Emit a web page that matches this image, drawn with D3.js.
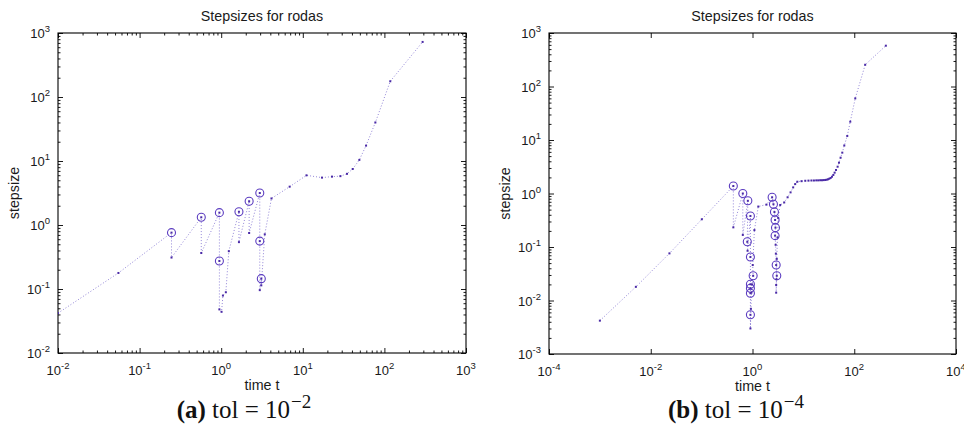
<!DOCTYPE html>
<html>
<head>
<meta charset="utf-8">
<script src="https://cdn.jsdelivr.net/npm/d3@7"></script>
<style>
  html, body { margin: 0; padding: 0; background: #fff; }
  svg { display: block; }
  .tick text { display: none; }
</style>
</head>
<body>
<svg id="fig" width="964" height="433"></svg>
<script>
// Step-size history of the rodas integrator, two tolerances.
// Each step: time t, step size h, and whether the step was rejected (circled).

// (a) tol = 1e-2
const timeA = [0.01, 0.055, 0.246, 0.246, 0.57, 0.57, 0.95, 0.95, 0.95, 1.01, 1.05, 1.14, 1.24,
  1.65, 1.65, 2.2, 2.2, 2.97, 2.97, 2.97, 3.1, 3.1, 3.42, 4.13, 6.9, 11.1, 17.2, 22.8, 28.9,
  34.8, 40.9, 49.3, 59.6, 77.5, 118, 294];
const stepA = [0.042, 0.178, 0.76, 0.31, 1.32, 0.365, 1.56, 0.274, 0.048, 0.044, 0.079, 0.089, 0.39,
  1.61, 0.54, 2.35, 0.75, 3.16, 0.56, 0.096, 0.145, 0.114, 0.715, 2.6, 3.97, 5.97, 5.5, 5.7, 5.8,
  6.3, 7.5, 10.4, 17.4, 40, 176, 725];
const rejectA = [0, 0, 1, 0, 1, 0, 1, 1, 0, 0, 0, 0, 0,
  1, 0, 1, 0, 1, 1, 0, 1, 0, 0, 0, 0, 0, 0, 0, 0,
  0, 0, 0, 0, 0, 0, 0];

// (b) tol = 1e-4
const timeB = [0.001, 0.0051, 0.0233, 0.101, 0.42, 0.42, 0.645, 0.645, 0.81, 0.79, 0.8,
  0.91, 0.91, 0.91, 0.91, 0.91, 0.91, 0.91, 0.93, 0.95, 0.98, 1.03, 1.01, 1.09, 1.3, 1.88,
  2.43, 2.58, 2.7, 2.78, 2.83, 2.78, 2.85, 2.88, 2.92, 3.0, 2.92, 2.92, 2.96, 3.0, 3.1, 3.2,
  3.5, 4.2, 4.9, 5.6, 6.3, 6.9, 7.6,
  9.2, 10.9, 12.6, 14.4, 16.1, 17.9, 19.6, 21.4, 23.2, 25.0, 26.8, 28.6, 30.4, 32.3,
  34.3, 36.5, 38.8, 41.1, 43.8, 47.1, 50.1, 53.9, 58.2, 63.7, 72.9, 83.5, 104.7, 164, 418];
const stepB = [0.0042, 0.018, 0.076, 0.33, 1.38, 0.233, 1.0, 0.168, 0.73, 0.125, 0.085,
  0.38, 0.065, 0.0201, 0.0169, 0.0137, 0.0054, 0.003, 0.007, 0.014, 0.02, 0.029, 0.046, 0.207, 0.57, 0.62,
  0.85, 0.63, 0.45, 0.32, 0.23, 0.163, 0.11, 0.075, 0.046, 0.029, 0.0195, 0.014, 0.025, 0.06, 0.15, 0.35,
  0.61, 0.68, 0.85, 1.05, 1.3, 1.5, 1.66,
  1.70, 1.73, 1.74, 1.75, 1.75, 1.76, 1.76, 1.77, 1.77, 1.78, 1.79, 1.81, 1.84, 1.89,
  1.95, 2.06, 2.22, 2.45, 2.75, 3.17, 3.77, 4.67, 5.8, 7.9, 11.9, 22, 60, 255, 579];
const rejectB = [0, 0, 0, 0, 1, 0, 1, 0, 1, 1, 0,
  1, 1, 1, 1, 1, 1, 0, 0, 0, 0, 1, 0, 0, 0, 0,
  1, 1, 1, 1, 1, 1, 0, 0, 1, 1, 0, 0, 0, 0, 0, 0,
  0, 0, 0, 0, 0, 0, 0,
  0, 0, 0, 0, 0, 0, 0, 0, 0, 0, 0, 0, 0, 0,
  0, 0, 0, 0, 0, 0, 0, 0, 0, 0, 0, 0, 0, 0, 0];

// Axis decades (exponents) that carry ticks and labels
const xExpA = [-2, -1, 0, 1, 2, 3];
const yExpA = [-2, -1, 0, 1, 2, 3];
const xExpB = [-4, -2, 0, 2, 4];
const yExpB = [-3, -2, -1, 0, 1, 2, 3];

const titleText = "Stepsizes for rodas";
const xLabelText = "time t";
const yLabelText = "stepsize";
const captionTags = ["(a)", "(b)"];
const captionExp = ["\u22122", "\u22124"];

const SANS = "'Liberation Sans', Arial, Helvetica, sans-serif";
const SERIF = "'Liberation Serif', 'Times New Roman', serif";
const DOT_COLOR = "#4a2aa6";
const RING_COLOR = "#5b3cc0";
const LINE_COLOR = "#9386d8";

const svg = d3.select("#fig");

function panel(cfg) {
  const { left, right, top, bottom, xExp, yExp, xMinor, times, steps, rejects, id } = cfg;
  const x = d3.scaleLog().domain([10 ** xExp[0], 10 ** xExp[xExp.length - 1]]).range([left, right]);
  const y = d3.scaleLog().domain([10 ** yExp[0], 10 ** yExp[yExp.length - 1]]).range([bottom, top]);
  const g = svg.append("g");

  // minor tick values: 2..9 inside every decade
  function minors(exps) {
    const out = [];
    for (let i = 0; i < exps.length - 1; i++) {
      for (let e = exps[i]; e < exps[i + 1]; e++) {
        for (let m = 2; m <= 9; m++) out.push(m * 10 ** e);
      }
    }
    return out;
  }
  const xMajor = xExp.map(e => 10 ** e);
  const yMajor = yExp.map(e => 10 ** e);
  const majorLen = 5, minorLen = 2.5;

  function axisGroup(axis, transform) {
    const a = g.append("g").attr("transform", transform).call(axis);
    a.select(".domain").remove();
    a.selectAll("line").attr("stroke", "#000").attr("stroke-width", 0.9);
    return a;
  }
  const W = right - left, H = bottom - top;
  // ticks point inward on all four sides
  axisGroup(d3.axisBottom(x).tickValues(xMajor).tickSize(-majorLen), `translate(0,${bottom})`);
  axisGroup(d3.axisTop(x).tickValues(xMajor).tickSize(-majorLen), `translate(0,${top})`);
  if (xMinor) {
    axisGroup(d3.axisBottom(x).tickValues(minors(xExp)).tickSize(-minorLen), `translate(0,${bottom})`);
    axisGroup(d3.axisTop(x).tickValues(minors(xExp)).tickSize(-minorLen), `translate(0,${top})`);
  }
  axisGroup(d3.axisLeft(y).tickValues(yMajor).tickSize(-majorLen), `translate(${left},0)`);
  axisGroup(d3.axisRight(y).tickValues(yMajor).tickSize(-majorLen), `translate(${right},0)`);
  axisGroup(d3.axisLeft(y).tickValues(minors(yExp)).tickSize(-minorLen), `translate(${left},0)`);
  axisGroup(d3.axisRight(y).tickValues(minors(yExp)).tickSize(-minorLen), `translate(${right},0)`);

  // box
  g.append("rect").attr("x", left).attr("y", top).attr("width", W).attr("height", H)
    .attr("fill", "none").attr("stroke", "#000").attr("stroke-width", 1.1);

  // tick labels: 10 with superscript exponent
  xExp.forEach(e => {
    const t = g.append("text").attr("x", x(10 ** e)).attr("y", bottom + 22)
      .attr("text-anchor", "middle").attr("font-family", SANS).attr("font-size", 13).attr("fill", "#1a1a1a");
    t.append("tspan").text("10");
    t.append("tspan").attr("font-size", 9.5).attr("dy", -6).text(String(e));
  });
  yExp.forEach(e => {
    const t = g.append("text").attr("x", left - 8).attr("y", y(10 ** e) + 5)
      .attr("text-anchor", "end").attr("font-family", SANS).attr("font-size", 13).attr("fill", "#1a1a1a");
    t.append("tspan").text("10");
    t.append("tspan").attr("font-size", 9.5).attr("dy", -6).text(String(e));
  });

  const cx = (left + right) / 2, cy = (top + bottom) / 2;
  g.append("text").attr("x", cx).attr("y", 21).attr("text-anchor", "middle")
    .attr("font-family", SANS).attr("font-size", 14.3).attr("fill", "#1a1a1a").text(titleText);
  g.append("text").attr("x", cx).attr("y", bottom + 36.5).attr("text-anchor", "middle")
    .attr("font-family", SANS).attr("font-size", 14.3).attr("fill", "#1a1a1a").text(xLabelText);
  g.append("text").attr("transform", `translate(${left - 39},${cy}) rotate(-90)`)
    .attr("text-anchor", "middle").attr("font-family", SANS).attr("font-size", 14.3)
    .attr("fill", "#1a1a1a").text(yLabelText);

  // data, clipped to the axes box
  svg.append("clipPath").attr("id", id).append("rect")
    .attr("x", left).attr("y", top).attr("width", W).attr("height", H);
  const data = times.map((t, i) => ({ t, h: steps[i], rej: rejects[i] }));
  const plot = g.append("g").attr("clip-path", `url(#${id})`);
  plot.append("path").datum(data)
    .attr("d", d3.line().x(d => x(d.t)).y(d => y(d.h)))
    .attr("fill", "none").attr("stroke", LINE_COLOR).attr("stroke-width", 1)
    .attr("stroke-dasharray", "1,2");
  plot.selectAll(".ring").data(data.filter(d => d.rej)).join("circle")
    .attr("cx", d => x(d.t)).attr("cy", d => y(d.h)).attr("r", 4)
    .attr("fill", "none").attr("stroke", RING_COLOR).attr("stroke-width", 1.1);
  plot.selectAll(".pt").data(data).join("rect")
    .attr("x", d => x(d.t) - 1).attr("y", d => y(d.h) - 1).attr("width", 2).attr("height", 2)
    .attr("fill", DOT_COLOR);
}

panel({ id: "clipA", left: 58, right: 466, top: 33, bottom: 353, xExp: xExpA, yExp: yExpA, xMinor: true,
  times: timeA, steps: stepA, rejects: rejectA });
panel({ id: "clipB", left: 549, right: 956, top: 33, bottom: 354, xExp: xExpB, yExp: yExpB, xMinor: false,
  times: timeB, steps: stepB, rejects: rejectB });

// sub-figure captions
[[244, 0], [736, 1]].forEach(([cx, i]) => {
  const t = svg.append("text").attr("x", cx).attr("y", 418).attr("text-anchor", "middle")
    .attr("font-family", SERIF).attr("font-size", 25).attr("fill", "#111");
  t.append("tspan").attr("font-weight", "bold").text(captionTags[i]);
  t.append("tspan").text(" tol = 10");
  t.append("tspan").attr("font-size", 19).attr("dx", 1).attr("dy", -10).text(captionExp[i]);
});
</script>
</body>
</html>
